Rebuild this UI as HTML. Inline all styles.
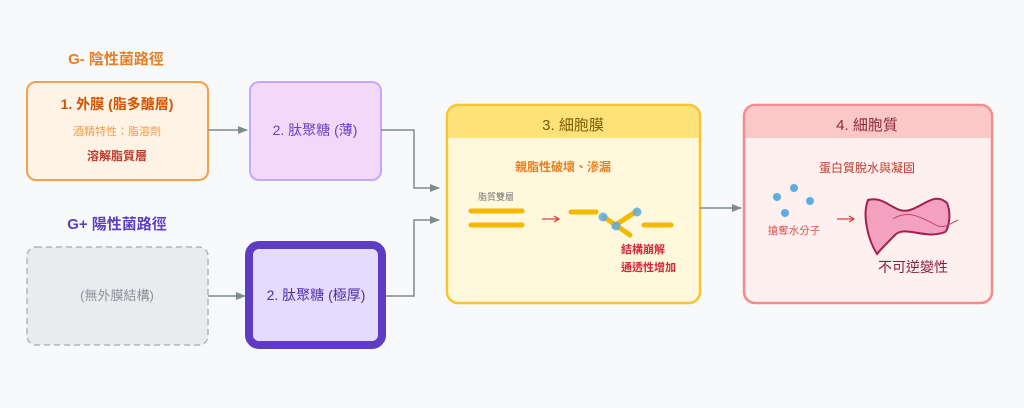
<!DOCTYPE html>
<html><head><meta charset="utf-8"><style>
html,body{margin:0;padding:0;background:#f8f9fa;}
svg{display:block;font-family:"Liberation Sans","Noto Sans CJK TC",sans-serif;}
</style></head><body>
<svg width="1024" height="408" viewBox="0 0 1024 408" xmlns="http://www.w3.org/2000/svg">
<defs>
<marker id="ah" markerWidth="10" markerHeight="8" refX="9" refY="4" orient="auto" markerUnits="userSpaceOnUse">
<path d="M0,0 L10,4 L0,8 z" fill="#7f8c8d"/></marker>
</defs>
<rect width="1024" height="408" fill="#f8f9fa"/>
<text x="116" y="64" text-anchor="middle" font-size="15" font-weight="bold" fill="#e67e22">G- 陰性菌路徑</text>
<rect x="27" y="82" width="181" height="98" rx="9" fill="#fff3e6" stroke="#f5a04a" stroke-width="2"/>
<text x="117" y="109" text-anchor="middle" font-size="14" font-weight="bold" fill="#d35400">1. 外膜 (脂多醣層)</text>
<text x="117" y="135" text-anchor="middle" font-size="11" fill="#f39c4a">酒精特性：脂溶劑</text>
<text x="117" y="160" text-anchor="middle" font-size="12" font-weight="bold" fill="#c0392b">溶解脂質層</text>
<line x1="208" y1="130" x2="247" y2="130" stroke="#7f8c8d" stroke-width="1.5" marker-end="url(#ah)"/>
<rect x="250" y="82" width="131" height="98" rx="9" fill="#f3d9f9" stroke="#c4a7ff" stroke-width="2"/>
<text x="315" y="135" text-anchor="middle" font-size="14" fill="#6a3fc6">2. 肽聚糖 (薄)</text>
<polyline points="381,130 414,130 414,188 439,188" fill="none" stroke="#7f8c8d" stroke-width="1.5" marker-end="url(#ah)"/>

<text x="117" y="229" text-anchor="middle" font-size="15" font-weight="bold" fill="#5b3fc4">G+ 陽性菌路徑</text>
<rect x="27" y="247" width="181" height="98" rx="9" fill="#e9ecef" stroke="#b0b5ba" stroke-width="1.5" stroke-dasharray="6,4"/>
<text x="117" y="300" text-anchor="middle" font-size="13" fill="#8a9096">(無外膜結構)</text>
<line x1="208" y1="296" x2="245" y2="296" stroke="#7f8c8d" stroke-width="1.5" marker-end="url(#ah)"/>
<rect x="249" y="245" width="133" height="100" rx="10" fill="#e5dbff" stroke="#5e3dc4" stroke-width="8"/>
<text x="316" y="300" text-anchor="middle" font-size="14" fill="#4a2fa8">2. 肽聚糖 (極厚)</text>
<polyline points="386,296 414,296 414,220 439,220" fill="none" stroke="#7f8c8d" stroke-width="1.5" marker-end="url(#ah)"/>

<rect x="447" y="105" width="253" height="198" rx="11" fill="#fff8dc" stroke="#f9c52d" stroke-width="2.5"/>
<path d="M448.5,138 V116 a10,10 0 0 1 10,-10 H688.5 a10,10 0 0 1 10,10 V138 Z" fill="#fde27a"/>
<text x="573" y="130" text-anchor="middle" font-size="15" fill="#7a5b00">3. 細胞膜</text>
<text x="563" y="171" text-anchor="middle" font-size="12" font-weight="bold" fill="#e67e22">親脂性破壞、滲漏</text>
<text x="496" y="200" text-anchor="middle" font-size="9" fill="#777">脂質雙層</text>
<g stroke="#f5b800" stroke-width="5" stroke-linecap="round">
<line x1="471" y1="211" x2="522" y2="211"/><line x1="471" y1="225" x2="522" y2="225"/>
<line x1="571" y1="212" x2="596" y2="212"/>
<line x1="604" y1="217" x2="630" y2="235"/><line x1="614" y1="226" x2="637" y2="211"/>
<line x1="644" y1="225" x2="671" y2="225"/>
</g>
<g fill="#5dade2" opacity="0.85"><circle cx="603" cy="217" r="4.5"/><circle cx="616" cy="226" r="4.5"/><circle cx="637" cy="212" r="4.5"/></g>
<line x1="542" y1="219" x2="558" y2="219" stroke="#d63a3a" stroke-width="1.2"/>
<path d="M554,216 L559,219 L554,222" fill="none" stroke="#d63a3a" stroke-width="1.2"/>
<text x="621" y="253" font-size="11" font-weight="bold" fill="#d0283a">結構崩解</text>
<text x="621" y="271" font-size="11" font-weight="bold" fill="#d0283a">通透性增加</text>

<line x1="700" y1="208" x2="741" y2="208" stroke="#7f8c8d" stroke-width="1.5" marker-end="url(#ah)"/>

<rect x="744" y="105" width="248" height="198" rx="11" fill="#fff0f0" stroke="#f78a8a" stroke-width="2.5"/>
<path d="M745.5,138 V116 a10,10 0 0 1 10,-10 H980.5 a10,10 0 0 1 10,10 V138 Z" fill="#fcc7c7"/>
<text x="867" y="130" text-anchor="middle" font-size="15" fill="#8a2a3a">4. 細胞質</text>
<text x="867" y="172" text-anchor="middle" font-size="12" fill="#c0392b">蛋白質脫水與凝固</text>
<g fill="#5dade2"><circle cx="777" cy="197" r="4"/><circle cx="794" cy="188" r="4"/><circle cx="810" cy="201" r="4"/><circle cx="785" cy="213" r="4"/></g>
<text x="794" y="234" text-anchor="middle" font-size="10.5" fill="#e05050">搶奪水分子</text>
<line x1="837" y1="219" x2="853" y2="219" stroke="#d63a3a" stroke-width="1.2"/>
<path d="M849,216 L854,219 L849,222" fill="none" stroke="#d63a3a" stroke-width="1.2"/>
<path d="M868,200 C885,195 895,215 910,210 C925,205 935,192 947,203 C952,215 948,230 945,232 C925,240 905,225 895,235 C885,245 880,250 877,254 C868,240 862,215 868,200 Z" fill="#f4a0bf" stroke="#a3204e" stroke-width="2"/>
<path d="M893,219 C910,208 925,220 938,226 C945,228 950,224 958,220" fill="none" stroke="#c04570" stroke-width="1"/>
<text x="913" y="272" text-anchor="middle" font-size="14" fill="#8a1c3c">不可逆變性</text>
</svg>
</body></html>
